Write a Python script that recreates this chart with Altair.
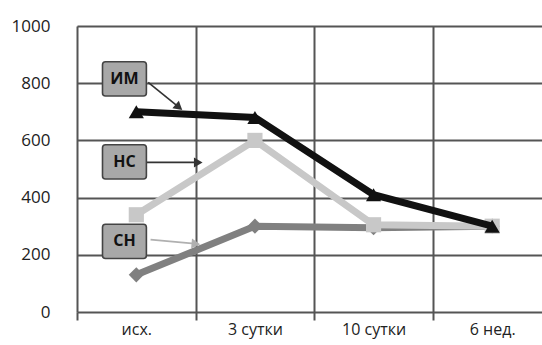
import altair as alt
import pandas as pd

# Time points along the x axis
periods = ["исх.", "3 сутки", "10 сутки", "6 нед."]

# Series values at each time point
im_values = [700, 680, 410, 300]   # ИМ
ns_values = [340, 600, 305, 300]   # НС
sn_values = [130, 300, 295, 300]   # СН

series_names = ["СН", "НС", "ИМ"]
series_colors = ["#808080", "#c8c8c8", "#111111"]
series_shapes = ["diamond", "square", "triangle-up"]

# Callout boxes: label, centre position in data units
callout_labels = ["ИМ", "НС", "СН"]
callout_x = [0.40, 0.40, 0.40]
callout_y = [815, 525, 247]

# Callout arrows: start and end in data units
arrow_x1 = [0.60, 0.58, 0.62]
arrow_y1 = [803, 523, 253]
arrow_x2 = [0.85, 1.01, 0.99]
arrow_y2 = [719, 523, 239]
arrow_angle = [130, 90, 95]
arrow_color = ["#333333", "#333333", "#b0b0b0"]

rows = []
for name, vals in zip(["ИМ", "НС", "СН"], [im_values, ns_values, sn_values]):
    for i, (p, v) in enumerate(zip(periods, vals)):
        rows.append({"series": name, "period": p, "pos": i + 0.5, "value": v})
df = pd.DataFrame(rows)

boxes = pd.DataFrame({"label": callout_labels, "cx": callout_x, "cy": callout_y})
boxes["x1"] = boxes["cx"] - 0.185
boxes["x2"] = boxes["cx"] + 0.185
boxes["y1"] = boxes["cy"] - 60
boxes["y2"] = boxes["cy"] + 60

arrows = pd.DataFrame({
    "x1": arrow_x1, "y1": arrow_y1, "x2": arrow_x2, "y2": arrow_y2,
    "angle": arrow_angle, "color": arrow_color,
})

label_expr = "datum.value % 1 === 0 ? '' : [" + ",".join(f"'{p}'" for p in periods) + "][floor(datum.value)]"
grid_test = "datum.value % 1 !== 0"

x_scale = alt.Scale(domain=[0, 3.92], nice=False, zero=False)
y_scale = alt.Scale(domain=[0, 1000], nice=False)

x_axis = alt.Axis(
    values=[0, 0.5, 1, 1.5, 2, 2.5, 3, 3.5],
    labelExpr=label_expr,
    title=None,
    grid=True,
    gridColor="#555555",
    gridWidth=2,
    gridOpacity={"condition": {"test": grid_test, "value": 0}, "value": 1},
    tickColor="#555555",
    tickWidth=2,
    tickSize=8,
    tickOpacity={"condition": {"test": grid_test, "value": 0}, "value": 1},
    domain=False,
    labelFont="Open Sans",
    labelFontSize=16,
    labelColor="#222222",
    labelPadding=1,
    labelBaseline="top",
)
y_axis = alt.Axis(
    values=[0, 200, 400, 600, 800, 1000],
    format="d",
    title=None,
    grid=True,
    gridColor="#555555",
    gridWidth=2,
    ticks=False,
    domain=False,
    labelFont="Open Sans",
    labelFontSize=17,
    labelColor="#222222",
    labelPadding=27,
)

color = alt.Color("series:N", scale=alt.Scale(domain=series_names, range=series_colors), legend=None)
shape = alt.Shape("series:N", scale=alt.Scale(domain=series_names, range=series_shapes), legend=None)

arrow_lines = alt.Chart(arrows).mark_rule(strokeWidth=1.6).encode(
    x="x1:Q", y="y1:Q", x2="x2:Q", y2="y2:Q",
    color=alt.Color("color:N", scale=None),
)
arrow_heads = alt.Chart(arrows).mark_point(filled=True, opacity=1, shape="triangle", size=100).encode(
    x="x2:Q", y="y2:Q",
    angle=alt.Angle("angle:Q", scale=None),
    color=alt.Color("color:N", scale=None),
)

box_rects = alt.Chart(boxes).mark_rect(
    fill="#a8a8a8", stroke="#444444", strokeWidth=1.6, cornerRadius=3
).encode(x="x1:Q", x2="x2:Q", y="y1:Q", y2="y2:Q")

box_text = alt.Chart(boxes).mark_text(
    font="Open Sans", fontSize=16, fontWeight="bold", color="#111111"
).encode(x="cx:Q", y="cy:Q", text="label:N")

# Draw СН first, then НС, then ИМ so the dark series sits on top
layers = []
for name in series_names:
    sub = df[df["series"] == name]
    layers.append(
        alt.Chart(sub).mark_line(strokeWidth=7).encode(
            x=alt.X("pos:Q", scale=x_scale, axis=x_axis),
            y=alt.Y("value:Q", scale=y_scale, axis=y_axis),
            color=color,
        )
    )
    layers.append(
        alt.Chart(sub).mark_point(filled=True, opacity=1, size=230).encode(
            x="pos:Q", y="value:Q", color=color, shape=shape,
        )
    )

chart = alt.layer(
    *layers, arrow_lines, arrow_heads, box_rects, box_text
).properties(
    width=465,
    height=286,
    autosize=alt.AutoSizeParams(type="none"),
    padding={"left": 77, "top": 26, "right": 0, "bottom": 33},
).configure_view(stroke=None).configure(background="white")

chart.save("out.html", embed_options={"renderer": "svg", "actions": False})
